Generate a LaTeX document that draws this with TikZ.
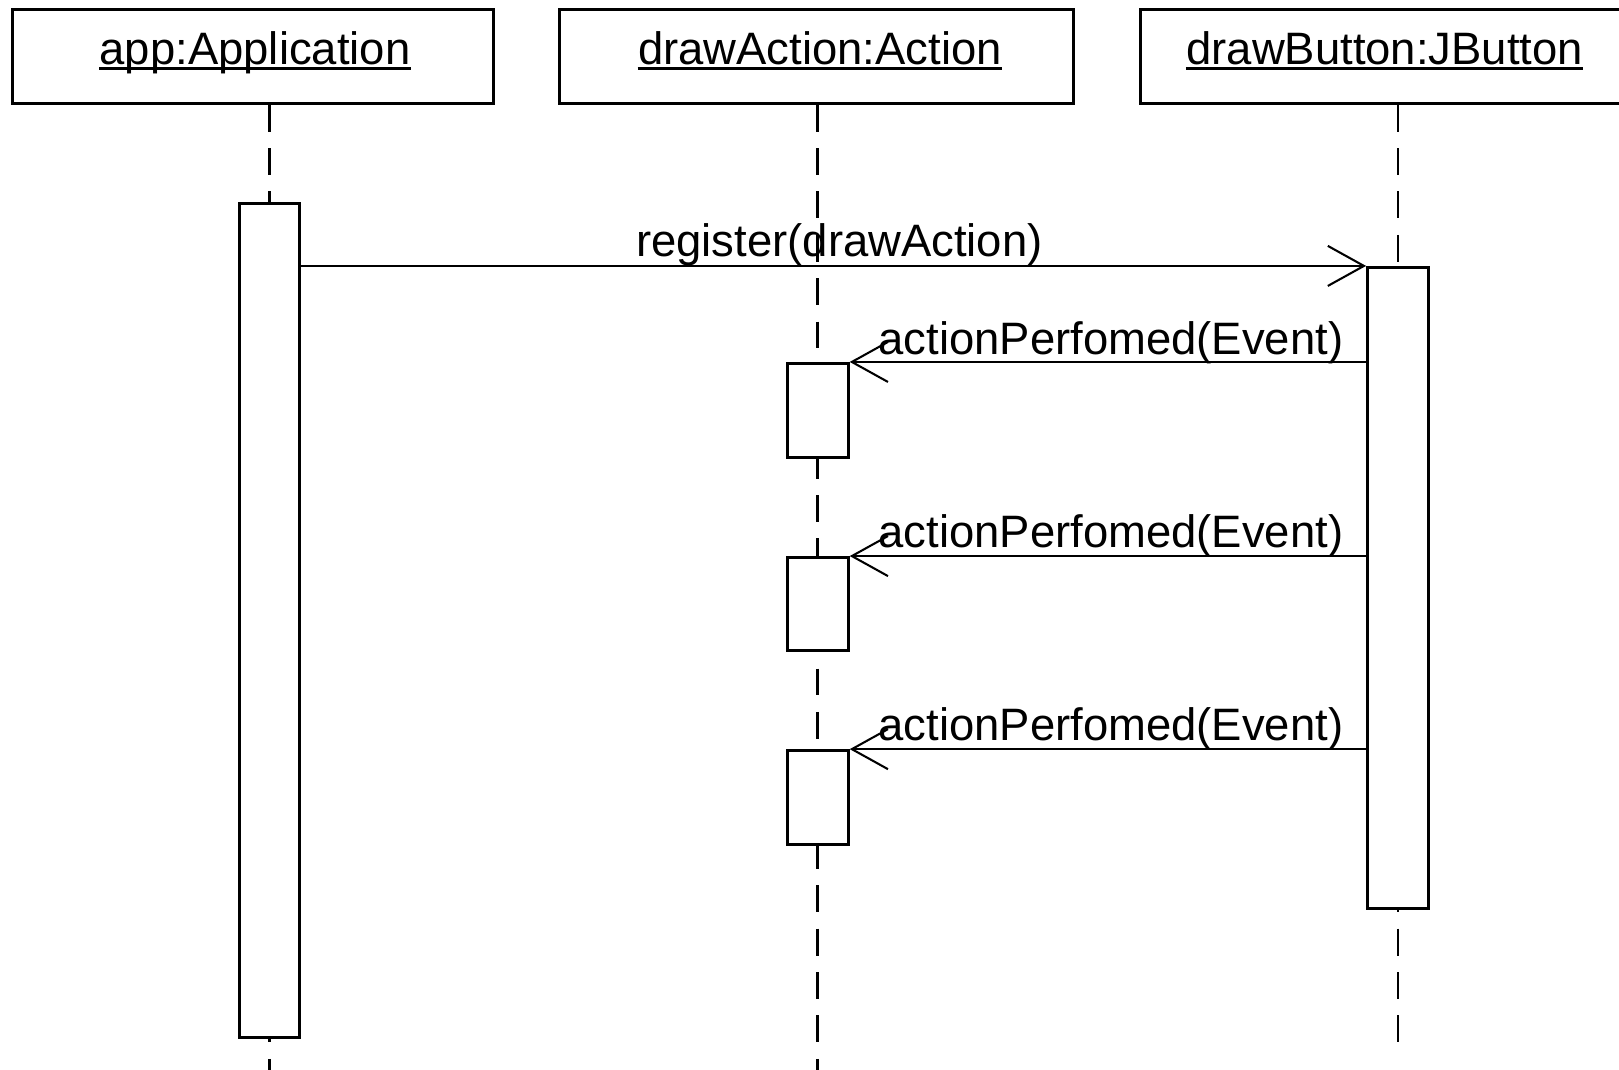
\documentclass[tikz,border=0pt]{standalone}
\usepackage{fontspec}
\setmainfont{Liberation Sans}
\usetikzlibrary{arrows.meta,calc}
\begin{document}
\begin{tikzpicture}[x=0.5pt,y=-0.5pt,
  objbox/.style={draw, line width=1.45pt, minimum width=#1*0.5pt,
                 minimum height=45.5pt, inner sep=0pt},
  activation/.style={draw, fill=white, line width=1.45pt,
                     minimum width=29.5pt, minimum height=#1*0.5pt, inner sep=0pt},
  txt/.style={font=\fontsize{22}{26}\selectfont, inner sep=0pt, anchor=base},
  uline/.style={line width=1.3pt},
  lifeline/.style={line width=1.35pt, dash pattern=on 13pt off 8pt},
  msg/.style={line width=1pt,
              -{Straight Barb[length=17.5pt, width=19.4pt, line width=1pt]}}
]
% page frame
\clip (0,0) rectangle (1568,1036);
\fill[white] (0,0) rectangle (1568,1036);

% object headers
\node[objbox=466] (h1) at (245,54.5) {};
\node[objbox=498] (h2) at (791,54.5) {};
\node[objbox=520] (h3) at (1365,54.5) {};

\node[txt] (t1) at (247,62) {app:Application};
\node[txt] (t2) at (794,62) {drawAction:Action};
\node[txt] (t3) at (1341,62) {drawButton:JButton};
\foreach \t in {t1,t2,t3}
  \draw[uline] ($(\t.base west)+(0,4.5)$) -- ($(\t.base east)+(0,4.5)$);

% lifeline ends
\coordinate (e1) at (261,1040);
\coordinate (e2) at (792,1040);
\coordinate (e3) at (1354,1010);

% activation boxes (positions only used for lifeline alignment first)
\path (261,601) coordinate (c1) (792,0) coordinate (c2) (1354,0) coordinate (c3);

% lifelines
\draw[lifeline] (h1.south -| c1) -- (e1);
\draw[lifeline] (h2.south -| c2) -- (e2);
\draw[lifeline] (h3.south -| c3) -- (e3);

% activations
\node[activation=808] (act1) at (261,601) {};
\node[activation=621] (act3) at (1354,569.5) {};
\node[activation=91]  (a1) at (792,397.5) {};
\node[activation=90]  (a2) at (792,585) {};
\node[activation=91]  (a3) at (792,772.5) {};

% messages
\draw[msg] (act1.east |- act3.north west) -- (act3.north west);
\draw[msg] (act3.west |- a1.north east) -- (a1.north east);
\draw[msg] (act3.west |- a2.north east) -- (a2.north east);
\draw[msg] (act3.west |- a3.north east) -- (a3.north east);

% message labels
\node[txt] (m1) at (813,248) {register(drawAction)};
\node[txt] (m2) at (1076,343) {actionPerfomed(Event)};
\node[txt] (m3) at (1076,530) {actionPerfomed(Event)};
\node[txt] (m4) at (1076,717) {actionPerfomed(Event)};
\end{tikzpicture}
\end{document}
